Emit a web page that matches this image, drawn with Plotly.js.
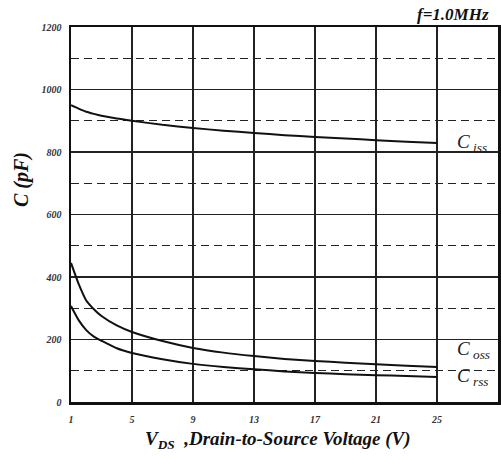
<!DOCTYPE html>
<html>
<head>
<meta charset="utf-8">
<script src="https://cdn.plot.ly/plotly-3.0.1.min.js"></script>
<style>html,body{margin:0;padding:0;background:#fff;}#chart{width:501px;height:459px;}</style>
</head>
<body>
<div id="chart"></div>
<script>
const vds  = [1, 1.5, 2, 2.5, 3, 4, 5, 7, 9, 11, 13, 15, 17, 19, 21, 23, 25];
const ciss = [950, 939, 929, 922, 916, 907, 900, 887, 877, 868, 861, 854, 848, 843, 838, 833, 829];
const coss = [445, 378, 325, 297, 275, 245, 224, 195, 173, 158, 147, 138, 131, 126, 121, 116, 112];
const crss = [307, 262, 230, 209, 196, 172, 157, 137, 122, 112, 105, 98, 93, 89, 86, 83, 80];
const xTicks = [1, 5, 9, 13, 17, 21, 25, 29];
const yTicks = [0, 200, 400, 600, 800, 1000, 1200];
const seriesLabels = [
  {name: 'iss', x: 26.2, y: 829},
  {name: 'oss', x: 26.2, y: 166},
  {name: 'rss', x: 26.2, y: 80}
];

const serif = 'Liberation Serif';
const lineStyle = {color: '#111', width: 2, shape: 'spline', smoothing: 0.6};
const traces = [ciss, coss, crss].map(v => ({
  x: vds, y: v, type: 'scatter', mode: 'lines', line: lineStyle, hoverinfo: 'skip'
}));

const annotations = seriesLabels.map(s => ({
  x: s.x, y: s.y, xref: 'x', yref: 'y', xanchor: 'left', yanchor: 'middle',
  text: '<i>C</i><sub><i> ' + s.name + '</i></sub>', showarrow: false,
  font: {family: serif, size: 19, color: '#222'}
}));
annotations.push({
  x: 491, y: 14, xref: 'paper', yref: 'paper', xanchor: 'right', yanchor: 'middle',
  text: '<b><i>f=1.0MHz</i></b>', showarrow: false,
  font: {family: serif, size: 17, color: '#111'}
});
annotations.push({
  x: 22, y: 180, xref: 'paper', yref: 'paper', xanchor: 'center', yanchor: 'middle',
  text: '<b><i>C (pF)</i></b>', showarrow: false, textangle: -90,
  font: {family: serif, size: 20, color: '#111'}
});
annotations.push({
  x: 278, y: 440, xref: 'paper', yref: 'paper', xanchor: 'center', yanchor: 'middle',
  text: '<b><i>V<sub>DS</sub>  ,Drain-to-Source Voltage (V)</i></b>', showarrow: false,
  font: {family: serif, size: 19, color: '#111'}
});
const W = 501, H = 459, M = {l: 71, r: 3, t: 27, b: 57};
annotations.forEach(a => {
  if (a.xref === 'paper') {
    a.x = (a.x - M.l) / (W - M.l - M.r);
    a.y = 1 - (a.y - M.t) / (H - M.t - M.b);
  }
});

const layout = {
  width: W, height: H,
  margin: M,
  font: {family: serif},
  paper_bgcolor: '#fff', plot_bgcolor: '#fff',
  showlegend: false,
  xaxis: {
    range: [1, 29], tickvals: xTicks, ticktext: xTicks.map(t => '<b><i>' + t + '</i></b>'),
    showgrid: true, gridcolor: '#222', gridwidth: 1.3,
    zeroline: false, showline: true, mirror: true, linecolor: '#111', linewidth: 2.5,
    ticks: '', ticklen: 0, ticklabelstandoff: 6,
    tickfont: {family: serif, size: 10, color: '#333'}
  },
  yaxis: {
    range: [0, 1200], tickvals: yTicks, ticktext: yTicks.map(t => '<b><i>' + t + '</i></b>'),
    showgrid: true, gridcolor: '#222', gridwidth: 1.3,
    minor: {dtick: 100, tick0: 0, showgrid: true, gridcolor: '#222', gridwidth: 1.2, griddash: '8px,5px', ticks: ''},
    zeroline: false, showline: true, mirror: true, linecolor: '#111', linewidth: 2.5,
    ticks: '', ticklen: 0, ticklabelstandoff: 5,
    tickfont: {family: serif, size: 10, color: '#333'}
  },
  annotations: annotations
};

Plotly.newPlot('chart', traces, layout, {displayModeBar: false, staticPlot: true});
</script>
</body>
</html>
